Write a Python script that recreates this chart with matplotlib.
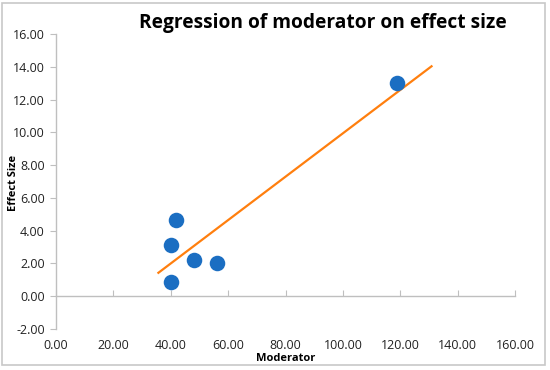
import numpy as np
import matplotlib
matplotlib.use("Agg")
import matplotlib.pyplot as plt
from matplotlib.patches import Rectangle

plt.rcParams['font.family'] = ['Open Sans', 'DejaVu Sans']

# data
moderator = [40, 40, 42, 48, 56, 119]
effect_size = [0.85, 3.15, 4.65, 2.2, 2.05, 13.0]

# trend line end points (as drawn)
trend_x = [35.7, 130.9]
trend_y = [1.43, 14.03]

x_ticks = [0, 20, 40, 60, 80, 100, 120, 140, 160]
y_ticks = [-2, 0, 2, 4, 6, 8, 10, 12, 14, 16]

fig = plt.figure(figsize=(5.5, 3.7), dpi=100)
ax = fig.add_axes([0.1018, 0.1108, 0.8346, 0.7973])

ax.plot(trend_x, trend_y, color='#ff7f0e', lw=1.6, zorder=2)
ax.scatter(moderator, effect_size, s=125, color='#1b6ec2', zorder=3, linewidths=0)

ax.set_xlim(0, 160)
ax.set_ylim(-2, 16)
ax.set_xticks(x_ticks)
ax.set_yticks(y_ticks)
ax.set_xticklabels(['%.2f' % v for v in x_ticks])
ax.set_yticklabels(['%.2f' % v for v in y_ticks])

for s in ['top', 'right']:
    ax.spines[s].set_visible(False)
ax.spines['bottom'].set_position(('data', 0))
for s in ['left', 'bottom']:
    ax.spines[s].set_color('#bfbfbf')
    ax.spines[s].set_linewidth(1.0)

ax.tick_params(axis='x', direction='in', length=4, color='#bfbfbf',
               pad=31, labelsize=9, labelcolor='#222222')
ax.tick_params(axis='y', direction='out', length=4, color='#bfbfbf',
               pad=4, labelsize=9, labelcolor='#222222')

fig.text(0.5191, 0.031, 'Moderator', ha='center', va='center',
         fontsize=8, fontweight='bold')
fig.text(0.024, 0.505, 'Effect Size', ha='center', va='center',
         rotation=90, fontsize=8, fontweight='bold')
fig.text(0.587, 0.938, 'Regression of moderator on effect size',
         ha='center', va='center', fontsize=13.8, fontweight='bold')

fig.patches.append(Rectangle((0.004, 0.014), 0.986, 0.978, transform=fig.transFigure,
                             fill=False, edgecolor='#c8c8c8', lw=1.2))

plt.savefig('out.png', dpi=100)
